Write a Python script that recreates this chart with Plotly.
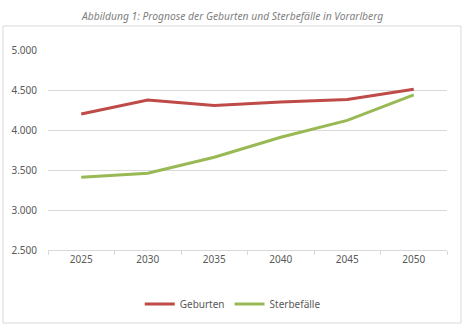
import plotly.graph_objects as go

years = ["2025", "2030", "2035", "2040", "2045", "2050"]
geburten = [4200, 4375, 4305, 4350, 4380, 4510]
sterbefaelle = [3410, 3460, 3660, 3910, 4120, 4440]
y_ticks = [2500, 3000, 3500, 4000, 4500, 5000]
y_labels = ["2.500", "3.000", "3.500", "4.000", "4.500", "5.000"]

fig = go.Figure()
fig.add_trace(go.Scatter(x=years, y=geburten, mode="lines", name="Geburten",
                         line=dict(color="#BE4B48", width=3)))
fig.add_trace(go.Scatter(x=years, y=sterbefaelle, mode="lines", name="Sterbefälle",
                         line=dict(color="#98B954", width=3)))

font = "Noto Sans, Open Sans, sans-serif"
fig.update_layout(
    width=466, height=330,
    margin=dict(l=48, r=19, t=50, b=80),
    paper_bgcolor="white", plot_bgcolor="white",
    font=dict(family=font, size=10, color="#595959"),
    showlegend=True,
    legend=dict(orientation="h", x=0.463, xanchor="center", y=-0.27, yanchor="middle",
                font=dict(size=10, color="#595959"), itemwidth=30, tracegroupgap=0),
    annotations=[dict(text="<i>Abbildung 1: Prognose der Geburten und Sterbefälle in Vorarlberg</i>",
                      xref="paper", yref="paper", x=0.461, y=1.17, xanchor="center", yanchor="middle",
                      showarrow=False, font=dict(size=10.3, color="#7F7F7F"))],
    shapes=[dict(type="rect", xref="paper", yref="paper", x0=-0.1128, x1=1.035, y0=-0.365, y1=1.12,
                 line=dict(color="#D9D9D9", width=1), layer="below")],
)
fig.update_xaxes(type="category", range=[-0.5, 5.5], showgrid=False, showline=True,
                 linecolor="#D9D9D9", linewidth=1,
                 ticks="outside", tickson="boundaries", ticklen=4, tickcolor="#D9D9D9",
                 tickfont=dict(size=10, color="#595959"))
fig.update_yaxes(range=[2500, 5000], tickvals=y_ticks, ticktext=y_labels, showgrid=True,
                 gridcolor="#D9D9D9", gridwidth=1, zeroline=False, showline=False, ticks="",
                 ticklabelstandoff=10, tickfont=dict(size=10, color="#595959"))

fig.write_html("out.html")
